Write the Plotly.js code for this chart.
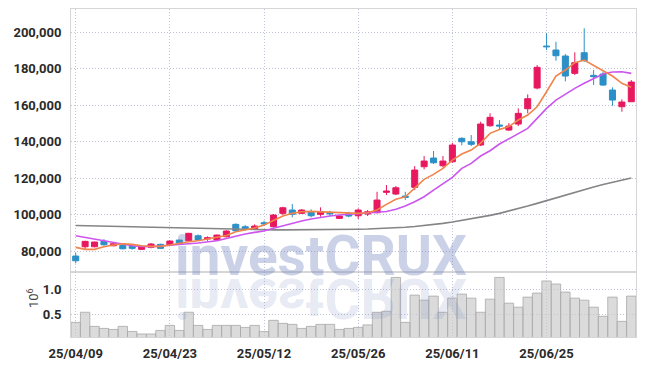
<!DOCTYPE html>
<html>
<head>
<meta charset="utf-8">
<script src="https://cdn.plot.ly/plotly-3.0.1.min.js"></script>
<style>html,body{margin:0;padding:0;background:#fff;}#chart{width:645px;height:366px;}</style>
</head>
<body>
<div id="chart"></div>
<script>
// trading dates (YY/MM/DD)
const dates = ["25/04/09","25/04/10","25/04/11","25/04/14","25/04/15","25/04/16","25/04/17","25/04/18","25/04/21","25/04/22",
"25/04/23","25/04/24","25/04/25","25/04/28","25/04/29","25/04/30","25/05/02","25/05/07","25/05/08","25/05/09",
"25/05/12","25/05/13","25/05/14","25/05/15","25/05/16","25/05/19","25/05/20","25/05/21","25/05/22","25/05/23",
"25/05/26","25/05/27","25/05/28","25/05/29","25/05/30","25/06/02","25/06/04","25/06/05","25/06/09","25/06/10",
"25/06/11","25/06/12","25/06/13","25/06/16","25/06/17","25/06/18","25/06/19","25/06/20","25/06/23","25/06/24",
"25/06/25","25/06/26","25/06/27","25/06/30","25/07/01","25/07/02","25/07/03","25/07/04","25/07/07","25/07/08"];

const openP = [77260,82360,82360,85320,82910,83130,82580,80930,82030,83680,
83290,86040,85650,88390,86580,86040,87850,94650,93330,91910,
95530,93330,100690,102500,100690,101560,100140,101020,97940,100690,
99370,100300,101020,112210,111280,110180,114950,126260,131030,126800,
129000,141840,139970,138160,148750,149140,146390,149680,158080,169440,
192480,190290,187000,177500,188810,176410,177120,168340,159180,161920];
const highP = [79000,85650,85170,86580,84300,84000,83290,82700,84390,84000,
85800,86300,90000,89160,88070,89000,91400,95200,94270,94650,
96630,100300,104310,105790,103050,102880,103980,102110,99750,101560,
103430,102500,112540,116210,115670,112540,126640,132130,134870,132130,
139420,142390,143650,150950,155560,151880,150230,158300,165980,182060,
199450,194840,188090,189030,202200,179320,178380,169820,163240,173830];
const lowP = [73300,81100,82000,82910,82600,80930,80710,80600,81480,81200,
83000,83400,85400,85650,85600,85700,87600,90590,91140,91520,
93720,93000,99750,98490,100300,98490,98820,99370,97560,98490,
97560,99200,100690,110730,110730,107980,113470,124830,127740,125920,
128450,138000,137610,137610,148200,146940,145840,148590,155560,168730,
190290,184420,173110,176570,183870,171090,170540,159730,156430,161760];
const closeP = [74680,85320,84940,83460,84000,81260,81480,82360,83840,81480,
85490,83680,89710,86040,87300,88780,90970,91140,92460,93720,
94980,99750,103760,100140,102500,99370,101560,100470,99200,99200,
102500,101560,107980,112920,114730,109470,124450,129380,128450,129380,
138160,139970,138550,149680,153360,148590,148590,155560,163570,180800,
192100,187160,176020,183320,184420,175640,171090,162850,161760,172730];

// moving averages
const ma5 = [82030,80930,80930,82360,83290,84010,83680,82910,82580,82580,
83290,84220,85100,85650,86580,87300,88500,90590,91520,92620,
94270,96630,99200,100690,101560,101780,101560,101230,100850,100690,
100690,101020,102500,105620,108370,109790,114400,119340,122090,125380,
129930,133220,135420,139260,144580,146670,148310,151880,154620,159180,
167410,176020,179310,183320,184800,182060,178930,176020,172020,169820];
const ma10 = [88400,87520,86580,85650,84550,83680,82910,82580,82360,82740,
83290,83680,84010,84390,84940,85650,86860,88230,89330,90260,
90970,92460,93880,95200,96460,97560,98490,99200,99750,100140,
100690,101020,101400,101670,102880,104690,107050,109790,113470,116760,
120430,125380,128120,132130,135040,138710,141450,144580,147330,152810,
158300,162850,166150,169270,172020,174760,177120,178220,178380,177500];
const maLong = [93990,93940,93830,93720,93610,93440,93330,93170,93060,92890,
92730,92570,92400,92240,92070,91910,91800,91740,91690,91630,
91630,91630,91630,91630,91630,91630,91690,91740,91800,91850,
91960,92070,92240,92460,92730,93060,93500,93990,94540,95200,
95910,96740,97560,98490,99590,100690,101950,103320,104690,106170,
107710,109190,110730,112210,113750,115120,116490,117750,118960,120060];

// volume in millions of shares
const volume = [0.34,0.54,0.26,0.22,0.20,0.26,0.16,0.11,0.11,0.18,
0.28,0.18,0.54,0.28,0.20,0.28,0.28,0.28,0.24,0.28,
0.16,0.38,0.32,0.30,0.22,0.26,0.30,0.30,0.20,0.22,
0.24,0.29,0.54,0.56,1.23,0.34,0.88,0.78,0.86,0.54,
0.82,0.90,0.82,0.54,0.80,1.23,0.72,0.64,0.84,0.92,
1.16,1.10,0.94,0.82,0.78,0.64,0.46,0.84,0.36,0.86];

const priceTicks = [80000,100000,120000,140000,160000,180000,200000];
const volTicks = [0.5,1.0];
const xTickIdx = [0,10,20,30,40,50];
const volUnit = '10<sup>6</sup>';

const UP = '#e8185f', DOWN = '#2b90c8';
const tickFont = {family:'Roboto, "Noto Sans", sans-serif', size:13, color:'#2a2a2a', weight:'bold'};
const gridCol = '#bfc4d8';
const gridDash = '1px,2px';

const data = [
  {type:'candlestick', x:dates, open:openP, high:highP, low:lowP, close:closeP,
   xaxis:'x', yaxis:'y',
   increasing:{line:{color:UP,width:1}, fillcolor:UP},
   decreasing:{line:{color:DOWN,width:1}, fillcolor:DOWN},
   whiskerwidth:0, hoverinfo:'skip'},
  {type:'scatter', mode:'lines', x:dates, y:maLong, line:{color:'#858585',width:1.6}, xaxis:'x', yaxis:'y', hoverinfo:'skip'},
  {type:'scatter', mode:'lines', x:dates, y:ma10, line:{color:'#cc55ee',width:1.6}, xaxis:'x', yaxis:'y', hoverinfo:'skip'},
  {type:'scatter', mode:'lines', x:dates, y:ma5, line:{color:'#f0844a',width:1.6}, xaxis:'x', yaxis:'y', hoverinfo:'skip'},
  {type:'bar', x:dates, y:volume, xaxis:'x', yaxis:'y2',
   marker:{color:'rgba(200,200,200,0.65)', line:{color:'#a8a8a8', width:0.8}}, hoverinfo:'skip'}
];

const layout = {
  width:645, height:366,
  margin:{l:71, r:9, t:9, b:29},
  paper_bgcolor:'#fff', plot_bgcolor:'#fff',
  showlegend:false,
  bargap:0.0,
  boxgap:0.2, boxgroupgap:0.2,
  xaxis:{type:'category', range:[-0.5,59.5], anchor:'y2',
    tickvals:xTickIdx.map(i=>dates[i]), ticktext:xTickIdx.map(i=>dates[i]),
    tickfont:tickFont, ticks:'', ticklabelstandoff:4,
    showgrid:true, gridcolor:gridCol, griddash:gridDash, gridwidth:1,
    showline:true, mirror:'all', linecolor:'#d6d6d6', linewidth:1,
    rangeslider:{visible:false}, fixedrange:true},
  yaxis:{domain:[0.197,1], range:[68300,212800],
    tickvals:priceTicks, tickformat:',d', tickfont:tickFont, ticks:'', ticklabelstandoff:6,
    showgrid:true, gridcolor:gridCol, griddash:gridDash, gridwidth:1, zeroline:false,
    showline:true, mirror:true, linecolor:'#d6d6d6', linewidth:1},
  yaxis2:{domain:[0,0.197], range:[0.05,1.33],
    tickvals:volTicks, tickformat:'.1f', tickfont:tickFont, ticks:'', ticklabelstandoff:6,
    showgrid:true, gridcolor:gridCol, griddash:gridDash, gridwidth:1, zeroline:false,
    showline:true, mirror:true, linecolor:'#d6d6d6', linewidth:1},
  annotations:[
    {xref:'paper', yref:'paper', x:(33-71)/565, y:(337-298)/328, xanchor:'center', yanchor:'middle',
     text:volUnit, textangle:-90, showarrow:false,
     font:{family:'Roboto, sans-serif', size:13, color:'#444'}},
    {xref:'paper', yref:'paper', x:0.4425, y:(337-256)/328, xanchor:'center', yanchor:'middle',
     text:'investCRUX', showarrow:false,
     font:{family:'Roboto, "Liberation Sans", sans-serif', size:55, weight:'bold', color:'rgba(110,130,190,0.36)'}},
    {xref:'paper', yref:'paper', x:0.4425, y:(337-256)/328, xanchor:'center', yanchor:'middle',
     text:'investCRUX', showarrow:false,
     font:{family:'Roboto, "Liberation Sans", sans-serif', size:55, weight:'bold', color:'rgba(110,130,190,0.18)'}}
  ]
};

Plotly.newPlot('chart', data, layout, {staticPlot:true, displayModeBar:false}).then(function(gd){
  const anns = gd.querySelectorAll('g.annotation');
  if (anns.length > 2) {
    const refl = anns[2];
    const t = refl.getAttribute('transform') || '';
    refl.setAttribute('transform', 'translate(0,' + (2*277) + ') scale(1,-1) ' + t);
  }
});
</script>
</body>
</html>
